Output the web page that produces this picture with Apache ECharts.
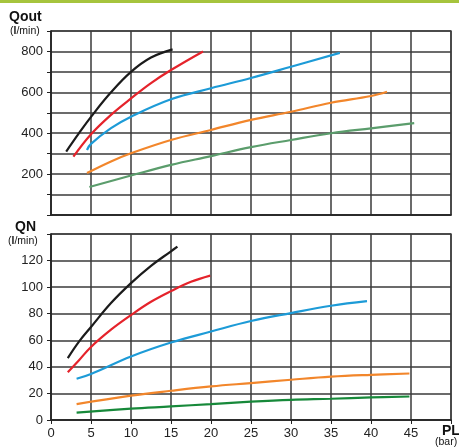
<!DOCTYPE html>
<html><head><meta charset="utf-8">
<script src="https://cdn.jsdelivr.net/npm/echarts@6/dist/echarts.min.js"></script>
<style>html,body{margin:0;padding:0;background:#fff}#c{width:459px;height:448px}</style>
</head><body><div id="c"></div>
<script>
// ---- data ----
var xTicks = [0,5,10,15,20,25,30,35,40,45];
var qoutTicks = [200,400,600,800];
var qnTicks = [0,20,40,60,80,100,120];

var qoutBlack  = [[1.9,310],[3.5,400],[5,480],[7.5,600],[10,700],[12.5,770],[15.2,810]];
var qoutRed    = [[2.8,285],[5,395],[7.5,490],[10,570],[12.5,645],[15,709],[19,800]];
var qoutBlue   = [[4.5,318],[5,348],[7.5,425],[10,481],[15,566],[20,620],[25,670],[30,725],[36.1,793]];
var qoutOrange = [[4.5,205],[7.5,262],[10,302],[15,367],[20,416],[25,465],[30,505],[35,549],[40,582],[42,603]];
var qoutGreen  = [[4.8,137],[10,193],[15,245],[20,288],[25,332],[30,367],[35,400],[40,424],[45.4,449]];

var qnBlack  = [[2.1,46.6],[3.5,59],[5,70],[7.5,88],[10,103],[12.5,116],[15,127],[15.8,130.5]];
var qnRed    = [[2.1,36],[3.5,45],[5,55],[7.5,68],[10,79],[12.5,89],[15,97],[17.5,104],[19.9,108.7]];
var qnBlue   = [[3.2,31],[5,34.6],[10,47.8],[15,58.3],[20,66.6],[25,74.5],[30,80.5],[35,86],[39.5,89.5]];
var qnOrange = [[3.2,12],[10,18.3],[15,22],[20,25.3],[25,27.8],[30,30.3],[35,32.6],[40,34],[44.8,35]];
var qnGreen  = [[3.2,5.5],[10,8.5],[15,10.2],[20,12],[25,13.8],[30,15.2],[35,16],[40,17],[44.8,17.7]];

var C = {black:'#1b1b1b', red:'#e5232b', blue:'#1d9bd7', orange:'#f2862b', green1:'#5b9d6c', green2:'#17893a'};

var gridLine = {show:true, lineStyle:{color:'#3a3a3a', width:1.5}};
var FF = 'Liberation Sans, Arial, sans-serif';
var labelStyle = {color:'#222', fontSize:13, fontFamily:FF};

function line(data, color, xi){
  return {type:'line', data:data, xAxisIndex:xi, yAxisIndex:xi, smooth:0.4, symbol:'none',
          lineStyle:{color:color, width:2.2}, animation:false};
}
function unitText(left, top){
  return {type:'text', left:left, top:top, style:{text:'({b|l}/min)', font:'10.5px '+FF, fill:'#111',
          rich:{b:{fontWeight:'bold', fontSize:10.5, fontFamily:FF, fill:'#111'}}}};
}

var chart = echarts.init(document.getElementById('c'), null, {renderer:'canvas'});
chart.setOption({
  animation:false,
  backgroundColor:'#fff',
  grid:[
    {left:51, top:31, width:400, height:184, show:true, borderColor:'#555', borderWidth:1.5},
    {left:51, top:234, width:400, height:186, show:true, borderColor:'#555', borderWidth:1.5}
  ],
  xAxis:[
    {gridIndex:0, type:'value', min:0, max:50, interval:5,
     axisLine:{show:true, lineStyle:{color:'#222', width:1.5}}, axisTick:{show:false},
     axisLabel:{show:false}, splitLine:gridLine},
    {gridIndex:1, type:'value', min:0, max:50, interval:5,
     axisLine:{show:true, lineStyle:{color:'#222', width:1.5}},
     axisTick:{show:true, length:4, lineStyle:{color:'#222'}},
     axisLabel:Object.assign({margin:7, formatter:function(v){return xTicks.indexOf(v)>=0?String(v):'';}}, labelStyle),
     splitLine:gridLine}
  ],
  yAxis:[
    {gridIndex:0, type:'value', min:0, max:900, interval:100,
     axisLine:{show:true, lineStyle:{color:'#222', width:1.5}},
     axisTick:{show:true, length:4, lineStyle:{color:'#222'}},
     axisLabel:Object.assign({margin:8, formatter:function(v){return qoutTicks.indexOf(v)>=0?String(v):'';}}, labelStyle),
     splitLine:gridLine},
    {gridIndex:1, type:'value', min:0, max:140, interval:20,
     axisLine:{show:true, lineStyle:{color:'#222', width:1.5}},
     axisTick:{show:true, length:4, lineStyle:{color:'#222'}},
     axisLabel:Object.assign({margin:8, formatter:function(v){return qnTicks.indexOf(v)>=0?String(v):'';}}, labelStyle),
     splitLine:gridLine}
  ],
  graphic:[
    {type:'rect', left:0, top:0, shape:{width:459, height:3}, style:{fill:'#a6c43d'}},
    {type:'text', left:9, top:10, style:{text:'Qout', font:'bold 14px '+FF, fill:'#111'}},
    unitText(10, 25.5),
    {type:'text', left:15, top:220, style:{text:'QN', font:'bold 14px '+FF, fill:'#111'}},
    unitText(8, 235.5),
    {type:'text', left:442, top:424, style:{text:'PL', font:'bold 14px '+FF, fill:'#111'}},
    {type:'text', left:435, top:437, style:{text:'(bar)', font:'10.5px '+FF, fill:'#111'}}
  ],
  series:[
    line(qoutBlack, C.black, 0), line(qoutRed, C.red, 0), line(qoutBlue, C.blue, 0),
    line(qoutOrange, C.orange, 0), line(qoutGreen, C.green1, 0),
    line(qnBlack, C.black, 1), line(qnRed, C.red, 1), line(qnBlue, C.blue, 1),
    line(qnOrange, C.orange, 1), line(qnGreen, C.green2, 1)
  ]
});
</script></body></html>
